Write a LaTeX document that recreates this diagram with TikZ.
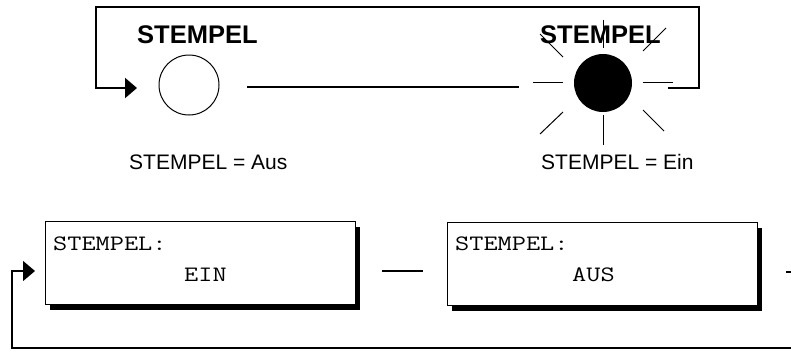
\documentclass[tikz,border=0pt]{standalone}
\usepackage{fontspec}
\usepackage{graphicx}
\setmainfont{Liberation Sans}
\usetikzlibrary{arrows.meta,shadows}
\newcommand{\lcdtext}[1]{\scalebox{1.25}[1]{\ttfamily\fontsize{22}{26}\selectfont #1}}
\begin{document}
\begin{tikzpicture}[x=1pt,y=-1pt,
  lamp/.style={circle,minimum size=60pt,inner sep=0pt,line width=1pt},
  ray/.style={line width=1pt},
  thickline/.style={line width=2pt},
  thinloop/.style={line width=1.4pt},
  tip/.style={-{Triangle[length=12pt,width=20pt]}},
  title/.style={anchor=base west,inner sep=0pt,font=\bfseries\fontsize{25.5}{30}\selectfont},
  caption/.style={anchor=base west,inner sep=0pt,font=\fontsize{21}{25}\selectfont},
  lcd/.style={draw,line width=1pt,fill=white,minimum width=310pt,minimum height=83pt,inner sep=0pt,
     general shadow={fill=black,shadow xshift=5pt,shadow yshift=-5pt}},
  lcdlabel/.style={anchor=base west,inner sep=0pt}
]
\useasboundingbox (0,0) rectangle (791,351);

% ---------- top part ----------
\node[lamp,draw] (off) at (189,85) {};
\node[lamp,fill=black,minimum size=58pt] (on) at (603,83) {};

% rays around the lit lamp
\draw[ray] (533,82) -- (563,82);
\draw[ray] (643,82) -- (673,82);
\draw[ray] (603,20) -- (603,48);
\draw[ray] (603,115) -- (603,145);
\draw[ray] (563,57) -- (540,34);
\draw[ray] (643,51) -- (666,28);
\draw[ray] (563,112) -- (540,134);
\draw[ray] (643,110) -- (664,131);

\node[title] (t1) at (137,43) {STEMPEL};
\node[title] (t2) at (540,43) {STEMPEL};

\node[caption] (c1) at (129,169) {STEMPEL = Aus};
\node[caption] (c2) at (541,169) {STEMPEL = Ein};

% connectors (top)
\coordinate (m1) at (247,87);
\coordinate (m2) at (519,87);
\draw[thickline] (m1) -- (m2);

\coordinate (r0) at (668,88);
\coordinate (a1) at (137,88);
\draw[thickline,tip] (r0) -- (699,88) -- (699,7) -- (96,7) -- (96,88) -- (a1);

% ---------- bottom part ----------
\node[lcd] (b1) at (200,263) {};
\node[lcd] (b2) at (602,264) {};

\node[lcdlabel] (b1a) at (53,250) {\lcdtext{STEMPEL:}};
\node[lcdlabel] (b1b) at (184,281) {\lcdtext{EIN}};
\node[lcdlabel] (b2a) at (455,250) {\lcdtext{STEMPEL:}};
\node[lcdlabel] (b2b) at (572,281) {\lcdtext{AUS}};

\coordinate (d1) at (382,271);
\coordinate (d2) at (423,271);
\draw[thinloop] (d1) -- (d2);

\coordinate (e1) at (786,272);
\coordinate (a2) at (35,271);
\draw[thinloop,tip] (e1) -- (805,272) -- (805,348) -- (12,348) -- (12,271) -- (a2);
\end{tikzpicture}
\end{document}
